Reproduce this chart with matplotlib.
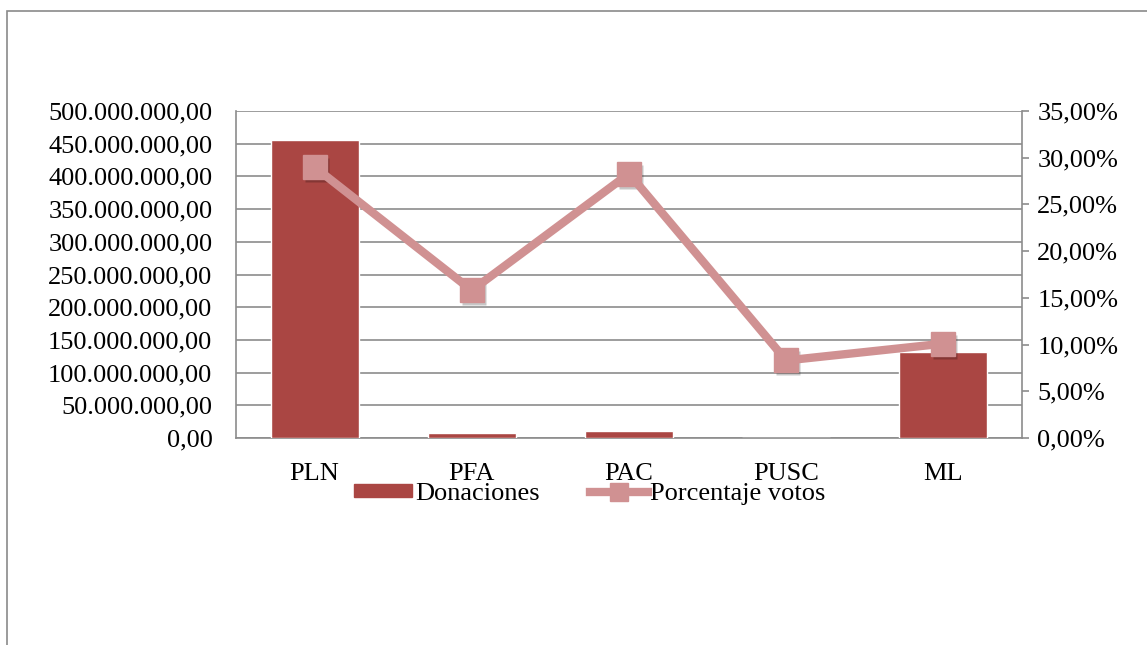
import matplotlib
matplotlib.use("Agg")
import matplotlib.pyplot as plt
import matplotlib.transforms as mtransforms
from matplotlib.patches import Rectangle
from matplotlib.lines import Line2D
from matplotlib.ticker import FuncFormatter, MultipleLocator

categories = ["PLN", "PFA", "PAC", "PUSC", "ML"]
donaciones = [456_000_000, 8_000_000, 10_500_000, 300_000, 132_000_000]
porcentaje_votos = [29.0, 15.8, 28.3, 8.3, 10.1]

bar_color = "#AA4643"
line_color = "#D09192"
grid_color = "#8C8C8C"
font = "Liberation Serif"
fs = 19

plt.rcParams["font.family"] = [font, "DejaVu Serif"]

fig = plt.figure(figsize=(11.47, 6.45), dpi=100)
fig.patches.append(Rectangle((7 / 1147, -0.1), 1.2, (645 - 11) / 645 + 0.1,
                             transform=fig.transFigure, fill=False,
                             edgecolor="#8A8A8A", linewidth=1.2))

ax = fig.add_axes([236 / 1147, 1 - 438 / 645, (1022 - 236) / 1147, (438 - 111) / 645])
x = list(range(len(categories)))
ax.bar(x, donaciones, width=0.56, color=bar_color, edgecolor="white",
       linewidth=1.0, zorder=3, label="Donaciones")
ax.set_xlim(-0.5, len(categories) - 0.5)
ax.set_ylim(0, 500_000_000)
ax.yaxis.set_major_locator(MultipleLocator(50_000_000))

def fmt_money(v, pos):
    s = f"{v:,.2f}"
    return s.replace(",", "X").replace(".", ",").replace("X", ".")

ax.yaxis.set_major_formatter(FuncFormatter(fmt_money))
ax.grid(axis="y", color=grid_color, linewidth=1.2, zorder=0)
ax.set_axisbelow(True)
ax.set_xticks(x)
ax.set_xticklabels(categories)
ax.tick_params(axis="x", length=0, pad=18, labelsize=fs)
ax.tick_params(axis="y", length=0, pad=17, labelsize=fs)
for side in ["left", "bottom", "right"]:
    ax.spines[side].set_color(grid_color)
    ax.spines[side].set_linewidth(1.2)
ax.spines["top"].set_visible(False)

ax2 = ax.twinx()
ax2.set_ylim(0, 35)
ax2.yaxis.set_major_locator(MultipleLocator(5))
ax2.yaxis.set_major_formatter(FuncFormatter(lambda v, p: f"{v:.2f}%".replace(".", ",")))
ax2.tick_params(axis="y", length=5, width=1.2, color=grid_color, pad=6, labelsize=fs, direction="out")
for side in ["left", "bottom", "right", "top"]:
    ax2.spines[side].set_visible(False)

shadow_tr = mtransforms.offset_copy(ax2.transData, fig=fig, x=2, y=-3, units="dots")
ax2.plot(x, porcentaje_votos, linestyle="none", marker="s", markersize=17,
         markerfacecolor="#000000", markeredgecolor="none", alpha=0.22,
         transform=shadow_tr, zorder=4)
ax2.plot(x, porcentaje_votos, color=line_color, linewidth=6, zorder=5,
         solid_capstyle="butt")
ax2.plot(x, porcentaje_votos, linestyle="none", marker="s", markersize=17,
         markerfacecolor=line_color, markeredgecolor=line_color, zorder=6)

h_bar = Rectangle((0, 0), 1, 1, color=bar_color)
h_line = Line2D([], [], color=line_color, linewidth=6, marker="s", markersize=13,
                markerfacecolor=line_color, markeredgecolor=line_color)
fig.legend([h_bar, h_line], ["Donaciones", "Porcentaje votos"], loc="center",
           bbox_to_anchor=(590 / 1147, 1 - 494 / 645),
           ncol=2, frameon=False, fontsize=fs, handlelength=2.2, handleheight=0.4,
           handletextpad=0.1, columnspacing=1.9, borderpad=0)

fig.savefig("out.png", dpi=100)
